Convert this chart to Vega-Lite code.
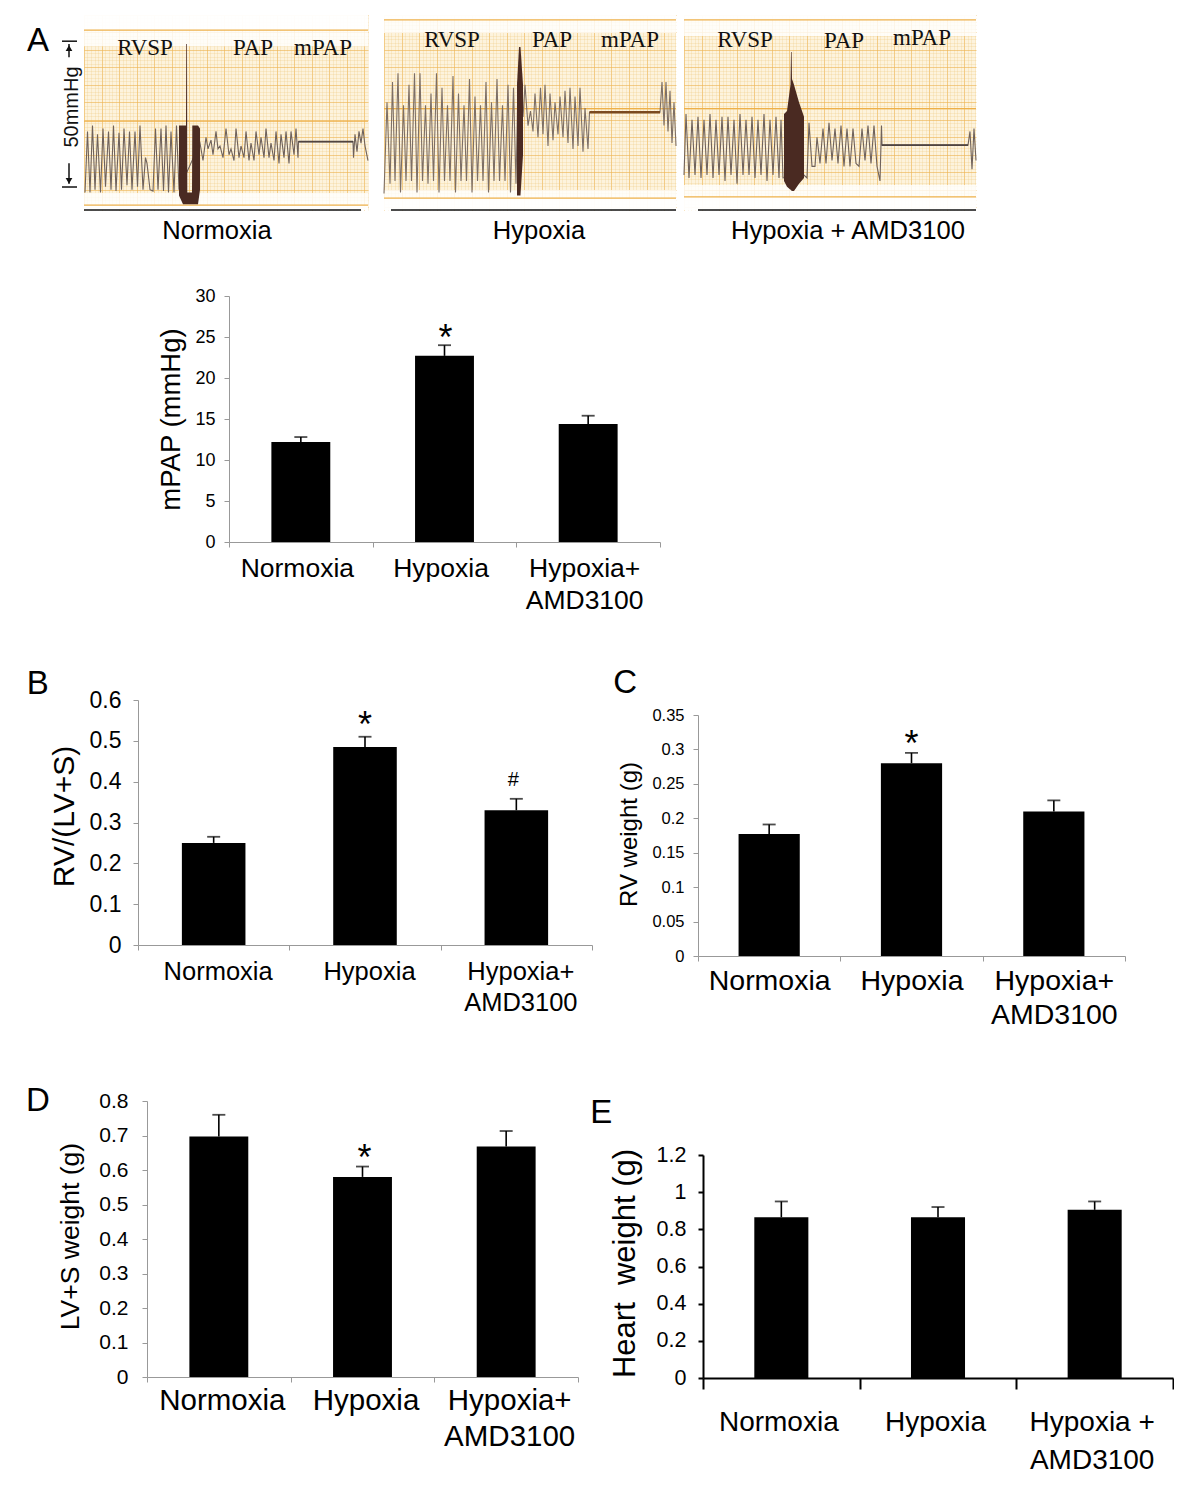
{
"$schema":"https://vega.github.io/schema/vega-lite/v6.json",
"padding":0,"autosize":{"type":"pad"},"background":"#ffffff",
"config":{"view":{"stroke":null},"font":"Liberation Sans","axisY":{"grid":false}},
"spacing":0,
"datasets":{
"trace1":[{"t":1,"v":-1},{"t":3.5,"v":20},{"t":6,"v":-1},{"t":8.5,"v":22},{"t":11,"v":0},{"t":13.5,"v":19},{"t":16.5,"v":-1},{"t":19,"v":21},{"t":21.5,"v":1},{"t":24.5,"v":20},{"t":27,"v":0},{"t":29.5,"v":22},{"t":32,"v":-0.5},{"t":35,"v":19.5},{"t":37.5,"v":0},{"t":40,"v":21},{"t":43,"v":1.5},{"t":45.5,"v":20},{"t":48,"v":0},{"t":51,"v":20},{"t":53.5,"v":1},{"t":56,"v":22},{"t":59,"v":0},{"t":61.5,"v":11},{"t":63,"v":9},{"t":66,"v":0},{"t":69,"v":-0.5},{"t":71.5,"v":21},{"t":74,"v":0},{"t":77,"v":21},{"t":79.5,"v":-0.5},{"t":82,"v":22},{"t":84.5,"v":-1},{"t":87,"v":20},{"t":90,"v":-1},{"t":92.5,"v":22},{"t":95,"v":0},{"t":116,"v":16},{"t":119,"v":10},{"t":122,"v":18},{"t":124,"v":14},{"t":127,"v":17},{"t":129,"v":12},{"t":132,"v":20},{"t":134,"v":14},{"t":136,"v":15},{"t":139,"v":11},{"t":142,"v":21},{"t":145,"v":12},{"t":147,"v":14},{"t":150,"v":10},{"t":152,"v":21},{"t":155,"v":11},{"t":157,"v":15},{"t":160,"v":11},{"t":162,"v":20},{"t":165,"v":10},{"t":167,"v":16},{"t":170,"v":10},{"t":172,"v":20},{"t":175,"v":12},{"t":177,"v":18},{"t":180,"v":11},{"t":182,"v":21},{"t":185,"v":11},{"t":187,"v":16},{"t":190,"v":10},{"t":192,"v":20},{"t":195,"v":9},{"t":197,"v":19},{"t":200,"v":11},{"t":202,"v":20},{"t":205,"v":9},{"t":207,"v":20},{"t":210,"v":12},{"t":212,"v":21},{"t":214,"v":11},{"t":214.5,"v":16.5},{"t":269,"v":16.5},{"t":269.5,"v":11},{"t":271,"v":19},{"t":273,"v":13},{"t":275,"v":20},{"t":277,"v":16},{"t":279,"v":21},{"t":281,"v":15},{"t":284,"v":10}],
"blob1":[{"t":95,"v":22,"v2":-2},{"t":99,"v":22,"v2":-5},{"t":102,"v":22,"v2":-5},{"t":102.3,"v":50,"v2":-5},{"t":103,"v":50,"v2":-5},{"t":103.3,"v":-1,"v2":-5},{"t":108,"v":-1,"v2":-5},{"t":108.3,"v":22,"v2":-5},{"t":114,"v":22,"v2":-5},{"t":116,"v":21,"v2":0}],
"mean1":[{"t":214.5,"v":16.5},{"t":269,"v":16.5}],
"strip1":[{"t":0,"t2":284,"v":60,"v2":49.3},{"t":0,"t2":284,"v":60,"v2":54.8},{"t":0,"t2":284,"v":-1.2,"v2":-7},{"t":0,"t2":284,"v":-5.3,"v2":-7}],
"lines1":[{"t":0,"t2":284,"v":54.8},{"t":0,"t2":284,"v":-5.3},{"t":0,"t2":284,"v":23.5}],
"labels1":[{"t":61,"v":48.66,"text":"RVSP"},{"t":169,"v":48.66,"text":"PAP"},{"t":239,"v":48.66,"text":"mPAP"}],
"caption1":[{"t":133,"v":-14.2,"text":"Normoxia"}],
"under1":[{"t":0,"t2":277,"v":-7}],
"scaleTicks":[{"t":-22,"t2":-7,"v":51},{"t":-22,"t2":-7,"v":0.9}],
"scaleShafts":[{"t":-15,"v":50,"v2":45.5},{"t":-15,"v":9.1,"v2":2}],
"scaleHeads":[{"t":-15,"v":48.6,"head":"up"},{"t":-15,"v":3,"head":"down"}],
"scaleLabel":[{"t":-12,"v":28.4,"text":"50mmHg"}],
"panelA":[{"t":-46,"v":51.06,"text":"A"}],
"trace2":[{"t":0,"v":-1.3},{"t":3,"v":30},{"t":6,"v":2},{"t":8.5,"v":37},{"t":11,"v":3},{"t":14,"v":40},{"t":16.5,"v":-1},{"t":19.5,"v":29},{"t":22,"v":3},{"t":25,"v":36},{"t":27.5,"v":3},{"t":30.5,"v":40},{"t":33,"v":-1},{"t":36,"v":40},{"t":38.5,"v":3},{"t":41.5,"v":29},{"t":44,"v":2},{"t":47,"v":33},{"t":49.5,"v":3},{"t":52.5,"v":40},{"t":55,"v":-1},{"t":58,"v":35},{"t":60.5,"v":3},{"t":63.5,"v":29},{"t":66,"v":3},{"t":69,"v":39},{"t":71.5,"v":-1},{"t":74.5,"v":33},{"t":77,"v":3},{"t":80,"v":29},{"t":82.5,"v":3},{"t":85.5,"v":38},{"t":88,"v":-1},{"t":91,"v":32},{"t":93.5,"v":3},{"t":96.5,"v":29},{"t":99,"v":3},{"t":102,"v":37},{"t":104.5,"v":-1},{"t":107.5,"v":30},{"t":110,"v":3},{"t":113,"v":38},{"t":115.5,"v":3},{"t":118.5,"v":29},{"t":121,"v":3},{"t":124,"v":36},{"t":126.5,"v":-1},{"t":129.5,"v":35},{"t":132,"v":2},{"t":134,"v":37},{"t":139,"v":25},{"t":141,"v":36},{"t":144,"v":22},{"t":146.5,"v":27},{"t":149,"v":20},{"t":151,"v":33},{"t":154,"v":18},{"t":156.5,"v":35},{"t":159,"v":19},{"t":161,"v":36},{"t":164,"v":15},{"t":166,"v":33},{"t":169,"v":17},{"t":171,"v":30},{"t":174,"v":19},{"t":176,"v":32},{"t":179,"v":18},{"t":181,"v":34},{"t":184,"v":16},{"t":186,"v":35},{"t":189,"v":14},{"t":191,"v":32},{"t":194,"v":15},{"t":196,"v":35},{"t":199,"v":13},{"t":201,"v":28},{"t":204,"v":14},{"t":205.5,"v":26.6},{"t":276,"v":26.6},{"t":278,"v":37},{"t":280,"v":22},{"t":282,"v":37},{"t":284,"v":20},{"t":286,"v":34},{"t":288,"v":16},{"t":290,"v":30},{"t":292,"v":15}],
"blob2":[{"t":133,"v":36,"v2":-2},{"t":135,"v":49,"v2":-2},{"t":136.5,"v":49,"v2":-2},{"t":139,"v":36,"v2":12}],
"mean2":[{"t":205.5,"v":26.6},{"t":276,"v":26.6}],
"strip2":[{"t":0,"t2":292,"v":60,"v2":53.8},{"t":0,"t2":292,"v":60,"v2":58.3},{"t":0,"t2":292,"v":-0.1,"v2":-7},{"t":0,"t2":292,"v":-2.9,"v2":-7}],
"lines2":[{"t":0,"t2":292,"v":58.3},{"t":0,"t2":292,"v":-2.9},{"t":0,"t2":292,"v":27.8}],
"labels2":[{"t":68,"v":51.4,"text":"RVSP"},{"t":168,"v":51.4,"text":"PAP"},{"t":246,"v":51.4,"text":"mPAP"}],
"caption2":[{"t":155,"v":-14.2,"text":"Hypoxia"}],
"under2":[{"t":7,"t2":292,"v":-7}],
"trace3":[{"t":0,"v":5},{"t":2,"v":26},{"t":5,"v":4},{"t":8,"v":24},{"t":11,"v":5},{"t":14,"v":25},{"t":17,"v":4},{"t":20,"v":24},{"t":23,"v":5},{"t":26,"v":26},{"t":29,"v":4},{"t":32,"v":24},{"t":35,"v":5},{"t":38,"v":25},{"t":41,"v":3},{"t":44,"v":25},{"t":47,"v":5},{"t":50,"v":24},{"t":53,"v":2},{"t":56,"v":26},{"t":59,"v":5},{"t":62,"v":24},{"t":65,"v":5},{"t":68,"v":25},{"t":71,"v":4},{"t":74,"v":24},{"t":77,"v":5},{"t":80,"v":26},{"t":83,"v":3},{"t":86,"v":24},{"t":89,"v":5},{"t":92,"v":25},{"t":95,"v":4},{"t":97,"v":24},{"t":99,"v":4},{"t":120,"v":5},{"t":123,"v":4},{"t":125,"v":23},{"t":128,"v":8},{"t":131,"v":8},{"t":133,"v":18},{"t":136,"v":9},{"t":139,"v":21},{"t":142,"v":9},{"t":145,"v":23},{"t":148,"v":10},{"t":151,"v":21},{"t":154,"v":9},{"t":157,"v":22},{"t":160,"v":8},{"t":163,"v":21},{"t":166,"v":8},{"t":169,"v":21},{"t":172,"v":9},{"t":175,"v":8},{"t":178,"v":21},{"t":181,"v":10},{"t":184,"v":22},{"t":187,"v":9},{"t":190,"v":22},{"t":193,"v":8},{"t":196,"v":3},{"t":197.5,"v":22},{"t":198,"v":15.3},{"t":284,"v":15.3},{"t":286,"v":20},{"t":288,"v":7},{"t":290,"v":21},{"t":292,"v":10}],
"blob3":[{"t":100,"v":26,"v2":3},{"t":103,"v":27,"v2":1},{"t":106.5,"v":36,"v2":0},{"t":107,"v":47.3,"v2":0},{"t":107.6,"v":47.3,"v2":-0.5},{"t":108,"v":38,"v2":-0.5},{"t":110,"v":36,"v2":-0.5},{"t":115,"v":30,"v2":2},{"t":120,"v":25,"v2":4}],
"mean3":[{"t":198,"v":15.3},{"t":284,"v":15.3}],
"strip3":[{"t":0,"t2":292,"v":60,"v2":52.8},{"t":0,"t2":292,"v":60,"v2":58.3},{"t":0,"t2":292,"v":1.6,"v2":-7},{"t":0,"t2":292,"v":-2.5,"v2":-7}],
"lines3":[{"t":0,"t2":292,"v":58.3},{"t":0,"t2":292,"v":-2.5},{"t":0,"t2":292,"v":27.8}],
"labels3":[{"t":61,"v":51.4,"text":"RVSP"},{"t":160,"v":51.07,"text":"PAP"},{"t":238,"v":52.1,"text":"mPAP"}],
"caption3":[{"t":164,"v":-14.2,"text":"Hypoxia + AMD3100"}],
"under3":[{"t":14,"t2":292,"v":-7}],
"mpap":[{"group":"Normoxia","mean":12.2,"upper":12.8},{"group":"Hypoxia","mean":22.7,"upper":24,"star":25.3,"mark":"*"},{"group":"Hypoxia+ AMD3100","mean":14.4,"upper":15.4}],
"rvi":[{"group":"Normoxia","mean":0.25,"upper":0.265},{"group":"Hypoxia","mean":0.485,"upper":0.51,"star":0.549,"mark":"*"},{"group":"Hypoxia+ AMD3100","mean":0.33,"upper":0.358,"hash":0.404,"mark":"#"}],
"rv":[{"group":"Normoxia","mean":0.177,"upper":0.191},{"group":"Hypoxia","mean":0.28,"upper":0.295,"star":0.315,"mark":"*"},{"group":"Hypoxia+ AMD3100","mean":0.21,"upper":0.226}],
"lvs":[{"group":"Normoxia","mean":0.697,"upper":0.76},{"group":"Hypoxia","mean":0.58,"upper":0.61,"star":0.649,"mark":"*"},{"group":"Hypoxia+ AMD3100","mean":0.668,"upper":0.713}],
"heart":[{"group":"Normoxia","mean":0.865,"upper":0.95},{"group":"Hypoxia","mean":0.865,"upper":0.92},{"group":"Hypoxia + AMD3100","mean":0.905,"upper":0.95}]
},
"vconcat":[
{"data":{"values":[{}]},"mark":{"type":"point","opacity":0,"size":0},"width":1,"height":15},
{"bounds":"flush","spacing":0,"hconcat":[
{"data":{"values":[{}]},"mark":{"type":"point","opacity":0,"size":0},"width":84,"height":1},
{"width":284,"height":195,"view":{"fill":"#fdf3dd"},
"resolve":{"axis":{"x":"independent","y":"independent"}},
"encoding":{"x":{"field":"t","type":"quantitative","scale":{"domain":[0,284]},"axis":null},"y":{"field":"v","type":"quantitative","scale":{"domain":[-7,60]},"axis":null}},
"layer":[
{"data":{"name":"strip1"},"mark":{"type":"rect","color":"#ffffff","opacity":0.8},"encoding":{"x":{"field":"t","type":"quantitative","scale":{"domain":[0,284]},"axis":{"labels":false,"ticks":false,"domain":false,"title":null,"grid":true,"gridColor":"#f0c272","gridOpacity":0.4,"gridWidth":0.6,"values":[0,3.5,7,10.5,14,17.5,21,24.5,28,31.5,35,38.5,42,45.5,49,52.5,56,59.5,63,66.5,70,73.5,77,80.5,84,87.5,91,94.5,98,101.5,105,108.5,112,115.5,119,122.5,126,129.5,133,136.5,140,143.5,147,150.5,154,157.5,161,164.5,168,171.5,175,178.5,182,185.5,189,192.5,196,199.5,203,206.5,210,213.5,217,220.5,224,227.5,231,234.5,238,241.5,245,248.5,252,255.5,259,262.5,266,269.5,273,276.5,280,283.5]}},"x2":{"field":"t2"},"y":{"field":"v","type":"quantitative","scale":{"domain":[-7,60]},"axis":{"labels":false,"ticks":false,"domain":false,"title":null,"grid":true,"gridColor":"#f0c272","gridOpacity":0.4,"gridWidth":0.6,"values":[-6,-4.8,-3.6,-2.4,-1.2,0,1.2,2.4,3.6,4.8,6,7.2,8.4,9.6,10.8,12,13.2,14.4,15.6,16.8,18,19.2,20.4,21.6,22.8,24,25.2,26.4,27.6,28.8,30,31.2,32.4,33.6,34.8,36,37.2,38.4,39.6,40.8,42,43.2,44.4,45.6,46.8,48,49.2,50.4,51.6,52.8,54,55.2,56.4,57.6,58.8,60]}},"y2":{"field":"v2"}}},
{"data":{"name":"lines1"},"mark":{"type":"rule","color":"#eeb04a","strokeWidth":1.2},"encoding":{"x":{"field":"t","type":"quantitative","scale":{"domain":[0,284]},"axis":{"labels":false,"ticks":false,"domain":false,"title":null,"grid":true,"gridColor":"#eeb04a","gridOpacity":0.5,"gridWidth":1,"values":[0,17.5,35,52.5,70,87.5,105,122.5,140,157.5,175,192.5,210,227.5,245,262.5,280]}},"x2":{"field":"t2"},"y":{"field":"v","type":"quantitative","scale":{"domain":[-7,60]},"axis":{"labels":false,"ticks":false,"domain":false,"title":null,"grid":true,"gridColor":"#eeb04a","gridOpacity":0.5,"gridWidth":1,"values":[-6,0,6,12,18,24,30,36,42,48,54,60]}}}},
{"data":{"name":"trace1"},"mark":{"type":"line","color":"#6f625c","strokeWidth":1.1}},
{"data":{"name":"blob1"},"mark":{"type":"area","color":"#4a2a22"},"encoding":{"y2":{"field":"v2"}}},
{"data":{"name":"mean1"},"mark":{"type":"line","color":"#4f4440","strokeWidth":1.6}},
{"data":{"name":"labels1"},"mark":{"type":"text","font":"Liberation Serif","fontSize":23,"color":"#111111"},"encoding":{"text":{"field":"text"}}},
{"data":{"name":"caption1"},"mark":{"type":"text","font":"Liberation Sans","fontSize":25.6,"color":"#000000"},"encoding":{"text":{"field":"text"}}},
{"data":{"name":"under1"},"mark":{"type":"rule","color":"#111111","strokeWidth":1.5},"encoding":{"x2":{"field":"t2"}}},
{"data":{"name":"scaleTicks"},"mark":{"type":"rule","color":"#111111","strokeWidth":1.5},"encoding":{"x2":{"field":"t2"}}},
{"data":{"name":"scaleShafts"},"mark":{"type":"rule","color":"#111111","strokeWidth":1.5},"encoding":{"y2":{"field":"v2"}}},
{"data":{"name":"scaleHeads"},"mark":{"type":"point","filled":true,"color":"#111111","size":45,"opacity":1},"encoding":{"shape":{"field":"head","type":"nominal","scale":{"domain":["up","down"],"range":["triangle-up","triangle-down"]},"legend":null}}},
{"data":{"name":"scaleLabel"},"mark":{"type":"text","font":"Liberation Sans","fontSize":20,"angle":270,"color":"#111111"},"encoding":{"text":{"field":"text"}}},
{"data":{"name":"panelA"},"mark":{"type":"text","font":"Liberation Sans","fontSize":33,"color":"#000000"},"encoding":{"text":{"field":"text"}}}
]},
{"data":{"values":[{}]},"mark":{"type":"point","opacity":0,"size":0},"width":16,"height":1},
{"width":292,"height":195,"view":{"fill":"#fdf3dd"},
"resolve":{"axis":{"x":"independent","y":"independent"}},
"encoding":{"x":{"field":"t","type":"quantitative","scale":{"domain":[0,292]},"axis":null},"y":{"field":"v","type":"quantitative","scale":{"domain":[-7,60]},"axis":null}},
"layer":[
{"data":{"name":"strip2"},"mark":{"type":"rect","color":"#ffffff","opacity":0.8},"encoding":{"x":{"field":"t","type":"quantitative","scale":{"domain":[0,292]},"axis":{"labels":false,"ticks":false,"domain":false,"title":null,"grid":true,"gridColor":"#f0c272","gridOpacity":0.4,"gridWidth":0.6,"values":[0,3.5,7,10.5,14,17.5,21,24.5,28,31.5,35,38.5,42,45.5,49,52.5,56,59.5,63,66.5,70,73.5,77,80.5,84,87.5,91,94.5,98,101.5,105,108.5,112,115.5,119,122.5,126,129.5,133,136.5,140,143.5,147,150.5,154,157.5,161,164.5,168,171.5,175,178.5,182,185.5,189,192.5,196,199.5,203,206.5,210,213.5,217,220.5,224,227.5,231,234.5,238,241.5,245,248.5,252,255.5,259,262.5,266,269.5,273,276.5,280,283.5,287,290.5]}},"x2":{"field":"t2"},"y":{"field":"v","type":"quantitative","scale":{"domain":[-7,60]},"axis":{"labels":false,"ticks":false,"domain":false,"title":null,"grid":true,"gridColor":"#f0c272","gridOpacity":0.4,"gridWidth":0.6,"values":[-6,-4.8,-3.6,-2.4,-1.2,0,1.2,2.4,3.6,4.8,6,7.2,8.4,9.6,10.8,12,13.2,14.4,15.6,16.8,18,19.2,20.4,21.6,22.8,24,25.2,26.4,27.6,28.8,30,31.2,32.4,33.6,34.8,36,37.2,38.4,39.6,40.8,42,43.2,44.4,45.6,46.8,48,49.2,50.4,51.6,52.8,54,55.2,56.4,57.6,58.8,60]}},"y2":{"field":"v2"}}},
{"data":{"name":"lines2"},"mark":{"type":"rule","color":"#eeb04a","strokeWidth":1.2},"encoding":{"x":{"field":"t","type":"quantitative","scale":{"domain":[0,292]},"axis":{"labels":false,"ticks":false,"domain":false,"title":null,"grid":true,"gridColor":"#eeb04a","gridOpacity":0.5,"gridWidth":1,"values":[0,17.5,35,52.5,70,87.5,105,122.5,140,157.5,175,192.5,210,227.5,245,262.5,280]}},"x2":{"field":"t2"},"y":{"field":"v","type":"quantitative","scale":{"domain":[-7,60]},"axis":{"labels":false,"ticks":false,"domain":false,"title":null,"grid":true,"gridColor":"#eeb04a","gridOpacity":0.5,"gridWidth":1,"values":[-6,0,6,12,18,24,30,36,42,48,54,60]}}}},
{"data":{"name":"trace2"},"mark":{"type":"line","color":"#7d6f66","strokeWidth":1.1}},
{"data":{"name":"blob2"},"mark":{"type":"area","color":"#4a2a22"},"encoding":{"y2":{"field":"v2"}}},
{"data":{"name":"mean2"},"mark":{"type":"line","color":"#7a4a20","strokeWidth":2.4}},
{"data":{"name":"labels2"},"mark":{"type":"text","font":"Liberation Serif","fontSize":23,"color":"#111111"},"encoding":{"text":{"field":"text"}}},
{"data":{"name":"caption2"},"mark":{"type":"text","font":"Liberation Sans","fontSize":25.6,"color":"#000000"},"encoding":{"text":{"field":"text"}}},
{"data":{"name":"under2"},"mark":{"type":"rule","color":"#111111","strokeWidth":1.5},"encoding":{"x2":{"field":"t2"}}}
]},
{"data":{"values":[{}]},"mark":{"type":"point","opacity":0,"size":0},"width":8,"height":1},
{"width":292,"height":195,"view":{"fill":"#fdf3dd"},
"resolve":{"axis":{"x":"independent","y":"independent"}},
"encoding":{"x":{"field":"t","type":"quantitative","scale":{"domain":[0,292]},"axis":null},"y":{"field":"v","type":"quantitative","scale":{"domain":[-7,60]},"axis":null}},
"layer":[
{"data":{"name":"strip3"},"mark":{"type":"rect","color":"#ffffff","opacity":0.8},"encoding":{"x":{"field":"t","type":"quantitative","scale":{"domain":[0,292]},"axis":{"labels":false,"ticks":false,"domain":false,"title":null,"grid":true,"gridColor":"#f0c272","gridOpacity":0.4,"gridWidth":0.6,"values":[0,3.5,7,10.5,14,17.5,21,24.5,28,31.5,35,38.5,42,45.5,49,52.5,56,59.5,63,66.5,70,73.5,77,80.5,84,87.5,91,94.5,98,101.5,105,108.5,112,115.5,119,122.5,126,129.5,133,136.5,140,143.5,147,150.5,154,157.5,161,164.5,168,171.5,175,178.5,182,185.5,189,192.5,196,199.5,203,206.5,210,213.5,217,220.5,224,227.5,231,234.5,238,241.5,245,248.5,252,255.5,259,262.5,266,269.5,273,276.5,280,283.5,287,290.5]}},"x2":{"field":"t2"},"y":{"field":"v","type":"quantitative","scale":{"domain":[-7,60]},"axis":{"labels":false,"ticks":false,"domain":false,"title":null,"grid":true,"gridColor":"#f0c272","gridOpacity":0.4,"gridWidth":0.6,"values":[-6,-4.8,-3.6,-2.4,-1.2,0,1.2,2.4,3.6,4.8,6,7.2,8.4,9.6,10.8,12,13.2,14.4,15.6,16.8,18,19.2,20.4,21.6,22.8,24,25.2,26.4,27.6,28.8,30,31.2,32.4,33.6,34.8,36,37.2,38.4,39.6,40.8,42,43.2,44.4,45.6,46.8,48,49.2,50.4,51.6,52.8,54,55.2,56.4,57.6,58.8,60]}},"y2":{"field":"v2"}}},
{"data":{"name":"lines3"},"mark":{"type":"rule","color":"#eeb04a","strokeWidth":1.2},"encoding":{"x":{"field":"t","type":"quantitative","scale":{"domain":[0,292]},"axis":{"labels":false,"ticks":false,"domain":false,"title":null,"grid":true,"gridColor":"#eeb04a","gridOpacity":0.5,"gridWidth":1,"values":[0,17.5,35,52.5,70,87.5,105,122.5,140,157.5,175,192.5,210,227.5,245,262.5,280]}},"x2":{"field":"t2"},"y":{"field":"v","type":"quantitative","scale":{"domain":[-7,60]},"axis":{"labels":false,"ticks":false,"domain":false,"title":null,"grid":true,"gridColor":"#eeb04a","gridOpacity":0.5,"gridWidth":1,"values":[-6,0,6,12,18,24,30,36,42,48,54,60]}}}},
{"data":{"name":"trace3"},"mark":{"type":"line","color":"#6f625c","strokeWidth":1.1}},
{"data":{"name":"blob3"},"mark":{"type":"area","color":"#4a2a22"},"encoding":{"y2":{"field":"v2"}}},
{"data":{"name":"mean3"},"mark":{"type":"line","color":"#4f4440","strokeWidth":1.8}},
{"data":{"name":"labels3"},"mark":{"type":"text","font":"Liberation Serif","fontSize":23,"color":"#111111"},"encoding":{"text":{"field":"text"}}},
{"data":{"name":"caption3"},"mark":{"type":"text","font":"Liberation Sans","fontSize":25.6,"color":"#000000"},"encoding":{"text":{"field":"text"}}},
{"data":{"name":"under3"},"mark":{"type":"rule","color":"#111111","strokeWidth":1.5},"encoding":{"x2":{"field":"t2"}}}
]}
]},
{"data":{"values":[{}]},"mark":{"type":"point","opacity":0,"size":0},"width":1,"height":42},
{"bounds":"flush","spacing":0,"hconcat":[
{"data":{"values":[{}]},"mark":{"type":"point","opacity":0,"size":0},"width":229,"height":1},
{"data":{"name":"mpap"},"width":431,"height":246,
"encoding":{"x":{"field":"group","type":"nominal","sort":null,"scale":{"paddingInner":0,"paddingOuter":0},"axis":{"title":null,"labelAngle":0,"labelFont":"Liberation Sans","labelFontSize":26.5,"labelColor":"#000000","labelPadding":8,"labelBaseline":"top","labelLineHeight":32,"labelOffset":-4,"tickBand":"extent","tickSize":5,"tickColor":"#999999","domainColor":"#999999","labelOverlap":false,"labelExpr":"indexof(datum.label,' AMD')>0?[substring(datum.label,0,indexof(datum.label,' AMD')),'AMD3100']:datum.label"}}},
"layer":[
{"mark":{"type":"bar","color":"#000000","width":{"band":0.41}},"encoding":{"y":{"field":"mean","type":"quantitative","scale":{"domain":[0,30]},"axis":{"values":[0,5,10,15,20,25,30],"labelOverlap":false,"title":"mPAP (mmHg)","titleFont":"Liberation Sans","titleFontWeight":"normal","titleFontSize":27.5,"titleColor":"#000000","titleX":-58,"titleY":123,"titleBaseline":"middle","labelFont":"Liberation Sans","labelFontSize":18,"labelColor":"#000000","labelPadding":9,"tickSize":5,"tickColor":"#999999","domainColor":"#999999","grid":false}}}},
{"mark":{"type":"rule","color":"#000000","strokeWidth":1.6},"encoding":{"y":{"field":"mean","type":"quantitative","scale":{"domain":[0,30]},"axis":{"values":[0,5,10,15,20,25,30]}},"y2":{"field":"upper"}}},
{"mark":{"type":"tick","color":"#000000","size":13,"thickness":1.8},"encoding":{"y":{"field":"upper","type":"quantitative","scale":{"domain":[0,30]},"axis":{"values":[0,5,10,15,20,25,30]}}}},
{"transform":[{"filter":"datum.star!=null"}],"mark":{"type":"text","font":"Liberation Sans","fontSize":36,"dy":4,"dx":1,"color":"#000000"},"encoding":{"y":{"field":"star","type":"quantitative","scale":{"domain":[0,30]},"axis":{"values":[0,5,10,15,20,25,30]}},"text":{"field":"mark"}}}
]}
]},
{"data":{"values":[{}]},"mark":{"type":"point","opacity":0,"size":0},"width":1,"height":53},
{"bounds":"flush","spacing":0,"hconcat":[
{"data":{"values":[{}]},"mark":{"type":"point","opacity":0,"size":0},"width":138,"height":1},
{"width":454,"height":245,
"encoding":{"x":{"field":"group","type":"nominal","sort":null,"scale":{"paddingInner":0,"paddingOuter":0},"axis":{"title":null,"labelAngle":0,"labelFont":"Liberation Sans","labelFontSize":25.5,"labelColor":"#000000","labelPadding":9,"labelBaseline":"top","labelLineHeight":31,"labelOffset":4,"tickBand":"extent","tickSize":5,"tickColor":"#999999","domainColor":"#999999","labelOverlap":false,"labelExpr":"indexof(datum.label,' AMD')>0?[substring(datum.label,0,indexof(datum.label,' AMD')),'AMD3100']:datum.label"}}},
"layer":[
{"data":{"name":"rvi"},"mark":{"type":"bar","color":"#000000","width":{"band":0.42}},"encoding":{"y":{"field":"mean","type":"quantitative","scale":{"domain":[0,0.6]},"axis":{"values":[0,0.1,0.2,0.3,0.4,0.5,0.6],"labelOverlap":false,"labelExpr":"''+datum.value","title":"RV/(LV+S)","titleFont":"Liberation Sans","titleFontWeight":"normal","titleFontSize":30,"titleColor":"#000000","titleX":-74,"titleY":116,"titleBaseline":"middle","labelFont":"Liberation Sans","labelFontSize":23,"labelColor":"#000000","labelPadding":12,"tickSize":5,"tickColor":"#999999","domainColor":"#999999","grid":false}}}},
{"data":{"name":"rvi"},"mark":{"type":"rule","color":"#000000","strokeWidth":1.6},"encoding":{"y":{"field":"mean","type":"quantitative","scale":{"domain":[0,0.6]},"axis":{"values":[0,0.1,0.2,0.3,0.4,0.5,0.6]}},"y2":{"field":"upper"}}},
{"data":{"name":"rvi"},"mark":{"type":"tick","color":"#000000","size":13,"thickness":1.8},"encoding":{"y":{"field":"upper","type":"quantitative","scale":{"domain":[0,0.6]},"axis":{"values":[0,0.1,0.2,0.3,0.4,0.5,0.6]}}}},
{"data":{"name":"rvi"},"transform":[{"filter":"datum.star!=null"}],"mark":{"type":"text","font":"Liberation Sans","fontSize":36,"dy":5.5,"color":"#000000"},"encoding":{"y":{"field":"star","type":"quantitative","scale":{"domain":[0,0.6]},"axis":{"values":[0,0.1,0.2,0.3,0.4,0.5,0.6]}},"text":{"field":"mark"}}},
{"data":{"name":"rvi"},"transform":[{"filter":"datum.hash!=null"}],"mark":{"type":"text","font":"Liberation Sans","fontSize":20,"dx":-3,"color":"#000000"},"encoding":{"y":{"field":"hash","type":"quantitative","scale":{"domain":[0,0.6]},"axis":{"values":[0,0.1,0.2,0.3,0.4,0.5,0.6]}},"text":{"field":"mark"}}},
{"data":{"values":[{"group":"Normoxia","y":0.639,"text":"B"}]},"mark":{"type":"text","font":"Liberation Sans","fontSize":33,"dx":-176,"color":"#000000"},"encoding":{"y":{"field":"y","type":"quantitative","scale":{"domain":[0,0.6]},"axis":{"values":[0,0.1,0.2,0.3,0.4,0.5,0.6]}},"text":{"field":"text"}}}
]},
{"data":{"values":[{}]},"mark":{"type":"point","opacity":0,"size":0},"width":106,"height":1},
{"width":427,"height":256,
"encoding":{"x":{"field":"group","type":"nominal","sort":null,"scale":{"paddingInner":0,"paddingOuter":0},"axis":{"title":null,"labelAngle":0,"labelFont":"Liberation Sans","labelFontSize":28.5,"labelColor":"#000000","labelPadding":5,"labelBaseline":"top","labelLineHeight":34,"labelOffset":0,"tickBand":"extent","tickSize":5,"tickColor":"#999999","domainColor":"#999999","labelOverlap":false,"labelExpr":"indexof(datum.label,' AMD')>0?[substring(datum.label,0,indexof(datum.label,' AMD')),'AMD3100']:datum.label"}}},
"layer":[
{"data":{"name":"rv"},"mark":{"type":"bar","color":"#000000","width":{"band":0.43}},"encoding":{"y":{"field":"mean","type":"quantitative","scale":{"domain":[0,0.35],"range":[256,15]},"axis":{"values":[0,0.05,0.1,0.15,0.2,0.25,0.3,0.35],"labelOverlap":false,"labelExpr":"''+datum.value","title":"RV weight (g)","titleFont":"Liberation Sans","titleFontWeight":"normal","titleFontSize":24,"titleColor":"#000000","titleX":-69,"titleY":134,"titleBaseline":"middle","labelFont":"Liberation Sans","labelFontSize":16.5,"labelColor":"#000000","labelPadding":9,"tickSize":5,"tickColor":"#999999","domainColor":"#999999","grid":false}}}},
{"data":{"name":"rv"},"mark":{"type":"rule","color":"#000000","strokeWidth":1.6},"encoding":{"y":{"field":"mean","type":"quantitative","scale":{"domain":[0,0.35],"range":[256,15]},"axis":{"values":[0,0.05,0.1,0.15,0.2,0.25,0.3,0.35]}},"y2":{"field":"upper"}}},
{"data":{"name":"rv"},"mark":{"type":"tick","color":"#000000","size":13,"thickness":1.8},"encoding":{"y":{"field":"upper","type":"quantitative","scale":{"domain":[0,0.35],"range":[256,15]},"axis":{"values":[0,0.05,0.1,0.15,0.2,0.25,0.3,0.35]}}}},
{"data":{"name":"rv"},"transform":[{"filter":"datum.star!=null"}],"mark":{"type":"text","font":"Liberation Sans","fontSize":36,"dy":5.5,"color":"#000000"},"encoding":{"y":{"field":"star","type":"quantitative","scale":{"domain":[0,0.35],"range":[256,15]},"axis":{"values":[0,0.05,0.1,0.15,0.2,0.25,0.3,0.35]}},"text":{"field":"mark"}}},
{"data":{"values":[{"group":"Normoxia","y":0.396,"text":"C"}]},"mark":{"type":"text","font":"Liberation Sans","fontSize":33,"dx":-144,"color":"#000000"},"encoding":{"y":{"field":"y","type":"quantitative","scale":{"domain":[0,0.35],"range":[256,15]},"axis":{"values":[0,0.05,0.1,0.15,0.2,0.25,0.3,0.35]}},"text":{"field":"text"}}}
]}
]},
{"data":{"values":[{}]},"mark":{"type":"point","opacity":0,"size":0},"width":1,"height":56},
{"bounds":"flush","spacing":0,"hconcat":[
{"data":{"values":[{}]},"mark":{"type":"point","opacity":0,"size":0},"width":147,"height":1},
{"width":431,"height":276,
"encoding":{"x":{"field":"group","type":"nominal","sort":null,"scale":{"paddingInner":0,"paddingOuter":0},"axis":{"title":null,"labelAngle":0,"labelFont":"Liberation Sans","labelFontSize":29.5,"labelColor":"#000000","labelPadding":4,"labelBaseline":"top","labelLineHeight":36,"labelOffset":3,"tickBand":"extent","tickSize":5,"tickColor":"#999999","domainColor":"#999999","labelOverlap":false,"labelExpr":"indexof(datum.label,' AMD')>0?[substring(datum.label,0,indexof(datum.label,' AMD')),'AMD3100']:datum.label"}}},
"layer":[
{"data":{"name":"lvs"},"mark":{"type":"bar","color":"#000000","width":{"band":0.41}},"encoding":{"y":{"field":"mean","type":"quantitative","scale":{"domain":[0,0.8]},"axis":{"values":[0,0.1,0.2,0.3,0.4,0.5,0.6,0.7,0.8],"labelOverlap":false,"labelExpr":"''+datum.value","title":"LV+S weight (g)","titleFont":"Liberation Sans","titleFontWeight":"normal","titleFontSize":26.5,"titleColor":"#000000","titleX":-77,"titleY":135,"titleBaseline":"middle","labelFont":"Liberation Sans","labelFontSize":21,"labelColor":"#000000","labelPadding":14,"tickSize":5,"tickColor":"#999999","domainColor":"#999999","grid":false}}}},
{"data":{"name":"lvs"},"mark":{"type":"rule","color":"#000000","strokeWidth":1.6},"encoding":{"y":{"field":"mean","type":"quantitative","scale":{"domain":[0,0.8]},"axis":{"values":[0,0.1,0.2,0.3,0.4,0.5,0.6,0.7,0.8]}},"y2":{"field":"upper"}}},
{"data":{"name":"lvs"},"mark":{"type":"tick","color":"#000000","size":13,"thickness":1.8},"encoding":{"y":{"field":"upper","type":"quantitative","scale":{"domain":[0,0.8]},"axis":{"values":[0,0.1,0.2,0.3,0.4,0.5,0.6,0.7,0.8]}}}},
{"data":{"name":"lvs"},"transform":[{"filter":"datum.star!=null"}],"mark":{"type":"text","font":"Liberation Sans","fontSize":36,"dy":5.5,"dx":2,"color":"#000000"},"encoding":{"y":{"field":"star","type":"quantitative","scale":{"domain":[0,0.8]},"axis":{"values":[0,0.1,0.2,0.3,0.4,0.5,0.6,0.7,0.8]}},"text":{"field":"mark"}}},
{"data":{"values":[{"group":"Normoxia","y":0.8,"text":"D"}]},"mark":{"type":"text","font":"Liberation Sans","fontSize":33,"dx":-181,"color":"#000000"},"encoding":{"y":{"field":"y","type":"quantitative","scale":{"domain":[0,0.8]},"axis":{"values":[0,0.1,0.2,0.3,0.4,0.5,0.6,0.7,0.8]}},"text":{"field":"text"}}}
]},
{"data":{"values":[{}]},"mark":{"type":"point","opacity":0,"size":0},"width":125,"height":1},
{"width":470,"height":277,
"encoding":{"x":{"field":"group","type":"nominal","sort":null,"scale":{"paddingInner":0,"paddingOuter":0},"axis":{"title":null,"labelAngle":0,"labelFont":"Liberation Sans","labelFontSize":28,"labelColor":"#000000","labelPadding":19,"labelBaseline":"top","labelLineHeight":38,"labelOffset":-3,"tickBand":"extent","tickSize":11,"tickWidth":2,"tickColor":"#000000","domainColor":"#000000","domainWidth":2,"labelOverlap":false,"labelExpr":"indexof(datum.label,' AMD')>0?[substring(datum.label,0,indexof(datum.label,' AMD')),'AMD3100']:datum.label"}}},
"layer":[
{"data":{"name":"heart"},"mark":{"type":"bar","color":"#000000","width":{"band":0.345}},"encoding":{"y":{"field":"mean","type":"quantitative","scale":{"domain":[0,1.2],"range":[277,54]},"axis":{"values":[0,0.2,0.4,0.6,0.8,1,1.2],"labelOverlap":false,"labelExpr":"''+datum.value","title":"Heart \u00a0weight (g)","titleFont":"Liberation Sans","titleFontWeight":"normal","titleFontSize":31,"titleColor":"#000000","titleX":-78,"titleY":162,"titleBaseline":"middle","labelFont":"Liberation Sans","labelFontSize":21.5,"labelColor":"#000000","labelPadding":12,"tickSize":5,"tickWidth":2,"tickColor":"#000000","domainColor":"#000000","domainWidth":2,"grid":false}}}},
{"data":{"name":"heart"},"mark":{"type":"rule","color":"#000000","strokeWidth":1.6},"encoding":{"y":{"field":"mean","type":"quantitative","scale":{"domain":[0,1.2],"range":[277,54]},"axis":{"values":[0,0.2,0.4,0.6,0.8,1,1.2]}},"y2":{"field":"upper"}}},
{"data":{"name":"heart"},"mark":{"type":"tick","color":"#000000","size":13,"thickness":1.8},"encoding":{"y":{"field":"upper","type":"quantitative","scale":{"domain":[0,1.2],"range":[277,54]},"axis":{"values":[0,0.2,0.4,0.6,0.8,1,1.2]}}}},
{"data":{"values":[{"group":"Normoxia","y":1.426,"text":"E"}]},"mark":{"type":"text","font":"Liberation Sans","fontSize":33,"dx":-180,"color":"#000000"},"encoding":{"y":{"field":"y","type":"quantitative","scale":{"domain":[0,1.2],"range":[277,54]},"axis":{"values":[0,0.2,0.4,0.6,0.8,1,1.2]}},"text":{"field":"text"}}}
]}
]}
]
}
